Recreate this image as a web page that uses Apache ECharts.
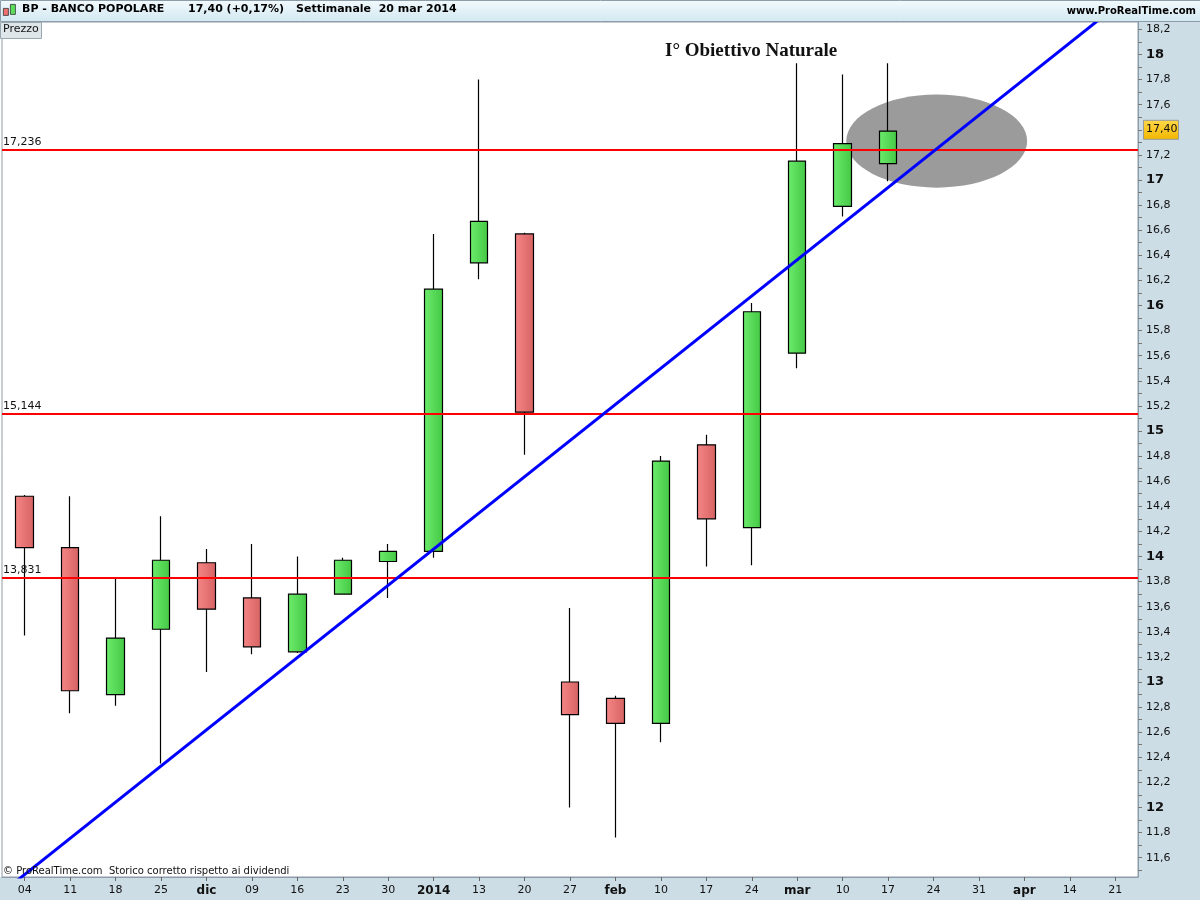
<!DOCTYPE html>
<html>
<head>
<meta charset="utf-8">
<script src="https://cdn.jsdelivr.net/npm/echarts@6/dist/echarts.min.js"></script>
<style>
html,body{margin:0;padding:0;background:#fff;}
#chart{width:1200px;height:900px;}
</style>
</head>
<body>
<div id="chart"></div>
<script>
// ---- data ----
const categories = ['04','11','18','25','dic','09','16','23','30','2014','13','20','27','feb','10','17','24','mar','10','17','24','31','apr','14','21'];
const boldLabels = ['dic','2014','feb','mar','apr'];
const openVals  = [14.48, 14.07, 12.90, 13.42, 13.95, 13.67, 13.24, 13.70, 13.96, 14.04, 16.34, 16.57, 13.00, 12.87, 12.67, 14.89, 14.23, 15.62, 16.79, 17.13];
const closeVals = [14.07, 12.93, 13.35, 13.97, 13.58, 13.28, 13.70, 13.97, 14.04, 16.13, 16.67, 15.15, 12.74, 12.67, 14.76, 14.30, 15.95, 17.15, 17.29, 17.39];
const lowVals   = [13.37, 12.75, 12.81, 12.35, 13.08, 13.22, 13.23, 13.70, 13.67, 13.99, 16.21, 14.81, 12.00, 11.76, 12.52, 13.92, 13.93, 15.50, 16.71, 16.99];
const highVals  = [14.49, 14.48, 13.83, 14.32, 14.06, 14.10, 14.00, 13.99, 14.10, 16.57, 17.80, 16.58, 13.59, 12.89, 14.80, 14.97, 16.02, 17.93, 17.84, 17.93];
const levels = [17.236, 15.144, 13.831];
const levelLabels = ['17,236', '15,144', '13,831'];
const trendStart = [-1, 11.178];
const trendEnd = [25, 18.669];
const ellipseCenter = [20.07, 17.31];
const ellipseRadius = [1.99, 0.371];
const yTickValues = [11.6,11.8,12,12.2,12.4,12.6,12.8,13,13.2,13.4,13.6,13.8,14,14.2,14.4,14.6,14.8,15,15.2,15.4,15.6,15.8,16,16.2,16.4,16.6,16.8,17,17.2,17.4,17.6,17.8,18,18.2];
const lastPrice = 17.40;
const lastPriceLabel = '17,40';
const yMin = 11.446, yMax = 18.259;

// ---- build ----
const candleData = categories.map((c, i) =>
  i < openVals.length ? [openVals[i], closeVals[i], lowVals[i], highVals[i]] : '-');
const minorTicks = [];
for (let k = 0; k < yTickValues.length; k++) {
  minorTicks.push(yTickValues[k]);
  minorTicks.push(+(yTickValues[k] - 0.1).toFixed(1));
}

const FONT = 'DejaVu Sans';
const chart = echarts.init(document.getElementById('chart'), null, {renderer: 'canvas'});

const upGrad = {type:'linear', x:0, y:0, x2:1, y2:0, colorStops:[{offset:0,color:'#6cec6c'},{offset:1,color:'#44c844'}]};
const downGrad = {type:'linear', x:0, y:0, x2:1, y2:0, colorStops:[{offset:0,color:'#f68686'},{offset:1,color:'#d66262'}]};

chart.setOption({
  animation: false,
  backgroundColor: '#ffffff',
  grid: {left: 2, right: 62, top: 22, bottom: 23, show: true, borderColor: '#8c9ca8', borderWidth: 1, backgroundColor: '#ffffff'},
  xAxis: [{
    type: 'category', data: categories, boundaryGap: true,
    axisLine: {show: true, onZero: false, lineStyle: {color: '#8c9ca8'}},
    axisTick: {show: true, alignWithLabel: true, length: 4, lineStyle: {color: '#666'}},
    axisLabel: {
      interval: 0, margin: 8, color: '#111', fontFamily: FONT, fontSize: 11,
      formatter: v => boldLabels.includes(v) ? '{b|' + v + '}' : v,
      rich: {b: {fontWeight: 'bold', fontFamily: FONT, fontSize: 12, color: '#111'}}
    },
    splitLine: {show: false}
  }, {
    type: 'value', min: -0.5, max: 24.5, show: false,
    axisLine: {onZero: false}
  }],
  yAxis: [{
    type: 'value', position: 'right', min: yMin, max: yMax,
    axisLine: {show: true, onZero: false, lineStyle: {color: '#8c9ca8'}},
    axisTick: {show: true, length: 4, customValues: minorTicks, lineStyle: {color: '#777'}},
    axisLabel: {
      customValues: yTickValues, margin: 8, color: '#111', fontFamily: FONT, fontSize: 11,
      formatter: v => {
        const s = (+v).toFixed(1);
        if (s.endsWith('.0')) return '{b|' + s.slice(0, -2) + '}';
        return s.replace('.', ',');
      },
      rich: {b: {fontWeight: 'bold', fontFamily: FONT, fontSize: 13, color: '#111'}}
    },
    splitLine: {show: false}
  }],
  series: [{
    type: 'custom', xAxisIndex: 1, yAxisIndex: 0, z: 1, clip: false,
    data: [ellipseCenter],
    renderItem: (params, api) => {
      const c = api.coord([api.value(0), api.value(1)]);
      const s = api.size([ellipseRadius[0], ellipseRadius[1]]);
      return {type: 'ellipse', shape: {cx: c[0], cy: c[1], rx: s[0], ry: s[1]}, style: {fill: '#9b9b9b'}};
    }
  }, {
    type: 'candlestick', data: candleData, barWidth: 18, z: 3,
    itemStyle: {color: upGrad, color0: downGrad, borderColor: '#000', borderColor0: '#000', borderWidth: 1.2}
  }, {
    type: 'line', data: [], z: 4,
    markLine: {
      silent: true, symbol: ['none','none'],
      lineStyle: {color: '#ff0000', width: 2, type: 'solid'},
      label: {show: true, position: 'insideStartTop', distance: [1, 2], color: '#111', fontFamily: FONT, fontSize: 11,
        formatter: p => levelLabels[p.dataIndex]},
      data: levels.map(v => ({yAxis: v}))
    }
  }, {
    type: 'line', xAxisIndex: 1, yAxisIndex: 0, z: 5, clip: true,
    data: [trendStart, trendEnd], symbol: 'none',
    lineStyle: {color: '#0000ff', width: 3}
  }]
});

const lpY = chart.convertToPixel({yAxisIndex: 0}, lastPrice);

chart.setOption({
  graphic: [
    // header bar
    {type: 'rect', left: 0, top: 0, z: 50, shape: {width: 1200, height: 21},
      style: {fill: {type:'linear', x:0, y:0, x2:0, y2:1, colorStops:[{offset:0,color:'#f2fafd'},{offset:1,color:'#d2e8f1'}]}, stroke: '#8c9ca8', lineWidth: 1}},
    {type: 'rect', left: 3, top: 8, z: 51, shape: {width: 5, height: 7}, style: {fill: '#f07070', stroke: '#333', lineWidth: 0.8}},
    {type: 'rect', left: 10, top: 4, z: 51, shape: {width: 5, height: 10}, style: {fill: '#5ce05c', stroke: '#333', lineWidth: 0.8}},
    {type: 'text', left: 22, top: 4, z: 51, style: {text: 'BP - BANCO POPOLARE', font: 'bold 11px "DejaVu Sans"', fill: '#000'}},
    {type: 'text', left: 188, top: 4, z: 51, style: {text: '17,40 (+0,17%)', font: 'bold 11px "DejaVu Sans"', fill: '#000'}},
    {type: 'text', left: 296, top: 4, z: 51, style: {text: 'Settimanale  20 mar 2014', font: 'bold 11px "DejaVu Sans"', fill: '#000'}},
    {type: 'text', right: 4, top: 6, z: 51, style: {text: 'www.ProRealTime.com', font: 'bold 10px "DejaVu Sans"', fill: '#000'}},
    // right axis strip
    {type: 'rect', left: 1138, top: 21, z: -10, shape: {width: 62, height: 879}, style: {fill: '#cddde6'}},
    // bottom axis strip
    {type: 'rect', left: 0, top: 877, z: -10, shape: {width: 1200, height: 23}, style: {fill: '#cddde6'}},
    // Prezzo tag
    {type: 'rect', left: 0, top: 22, z: 40, shape: {width: 41, height: 16}, style: {fill: '#dfe6ea', stroke: '#9aa8b2', lineWidth: 1}},
    {type: 'text', left: 3, top: 24, z: 41, style: {text: 'Prezzo', font: '11px "DejaVu Sans"', fill: '#111'}},
    // footer note
    {type: 'text', left: 3, top: 866, z: 41, style: {text: '\u00a9 ProRealTime.com  Storico corretto rispetto ai dividendi', font: '10px "DejaVu Sans"', fill: '#111'}},
    // annotation title
    {type: 'text', left: 665, top: 42, z: 41, style: {text: 'I\u00b0 Obiettivo Naturale', font: 'bold 19px "Liberation Serif"', fill: '#111'}},
    // last price box
    {type: 'rect', left: 1143, top: lpY - 10, z: 45, shape: {width: 35, height: 19},
      style: {fill: {type:'linear', x:0, y:0, x2:0, y2:1, colorStops:[{offset:0,color:'#ffd84a'},{offset:1,color:'#f2b600'}]}, stroke: '#999', lineWidth: 1}},
    {type: 'text', left: 1146, top: lpY - 6, z: 46, style: {text: lastPriceLabel, font: '11px "DejaVu Sans"', fill: '#111'}}
  ]
});
</script>
</body>
</html>
